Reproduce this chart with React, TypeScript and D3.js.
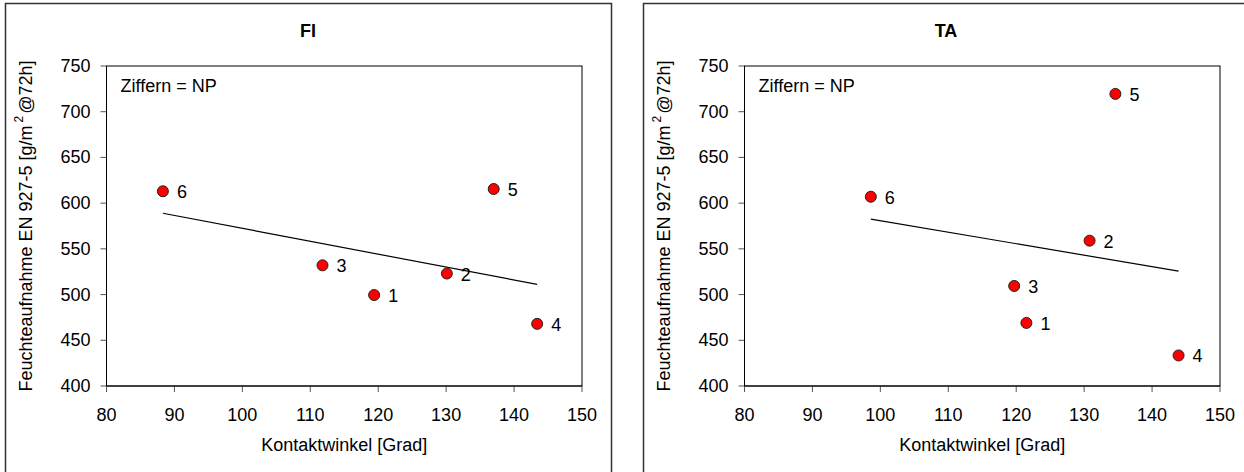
import React from "react";
import * as d3 from "d3";

const panelTitles = ["FI", "TA"];
const pointLabels = ["1", "2", "3", "4", "5", "6"];
const fiAngle = [119.4, 130.1, 111.8, 143.4, 137.0, 88.3];
const fiUptake = [499.5, 523, 532, 468, 615.5, 613];
const taAngle = [121.5, 130.8, 119.7, 143.9, 134.6, 98.6];
const taUptake = [469, 559, 509.4, 433.4, 719.5, 607];
const xTicks = [80, 90, 100, 110, 120, 130, 140, 150];
const yTicks = [400, 450, 500, 550, 600, 650, 700, 750];
const xLabel = "Kontaktwinkel [Grad]";
const noteText = "Ziffern = NP";

const FONT = "'Liberation Sans', Arial, sans-serif";
const FS = 18;

function linearFit(xs: number[], ys: number[]) {
  const mx = d3.mean(xs)!;
  const my = d3.mean(ys)!;
  let sxy = 0, sxx = 0;
  xs.forEach((x, i) => {
    sxy += (x - mx) * (ys[i] - my);
    sxx += (x - mx) * (x - mx);
  });
  const b = sxy / sxx;
  const a = my - b * mx;
  return (x: number) => a + b * x;
}

function Panel({ ox, title, xs, ys }: { ox: number; title: string; xs: number[]; ys: number[] }) {
  const left = 106.5 + ox, right = 582 + ox, top = 66, bottom = 386;
  const x = d3.scaleLinear().domain([80, 150]).range([left, right]);
  const y = d3.scaleLinear().domain([400, 750]).range([bottom, top]);
  const fit = linearFit(xs, ys);
  const [xmin, xmax] = d3.extent(xs) as [number, number];
  const line = d3.line<number>().x((d) => x(d)).y((d) => y(fit(d)));
  const cx = (left + right) / 2;
  return (
    <g>
      <rect x={5.5 + ox} y={3.5} width={606} height={520} fill="white" stroke="#333" strokeWidth={1.5} />
      <text x={308 + ox} y={31} textAnchor="middle" dominantBaseline="central" fontFamily={FONT} fontSize={FS} fontWeight="bold">{title}</text>
      <rect x={left} y={top} width={right - left} height={bottom - top} fill="white" stroke="black" strokeWidth={1} />
      {yTicks.map((t) => (
        <g key={"y" + t}>
          <line x1={left - 6} x2={left} y1={y(t)} y2={y(t)} stroke="#555" strokeWidth={1} />
          <text x={left - 16} y={y(t)} textAnchor="end" dominantBaseline="central" fontFamily={FONT} fontSize={FS}>{t}</text>
        </g>
      ))}
      {xTicks.map((t) => (
        <g key={"x" + t}>
          <line x1={x(t)} x2={x(t)} y1={bottom} y2={bottom + 6} stroke="#555" strokeWidth={1} />
          <text x={x(t)} y={415} textAnchor="middle" dominantBaseline="central" fontFamily={FONT} fontSize={FS}>{t}</text>
        </g>
      ))}
      <line x1={left} x2={left} y1={top} y2={bottom} stroke="black" />
      <line x1={left} x2={right} y1={bottom} y2={bottom} stroke="black" />
      <text x={cx} y={445} textAnchor="middle" dominantBaseline="central" fontFamily={FONT} fontSize={FS}>{xLabel}</text>
      <text transform={`translate(${26 + ox},${(top + bottom) / 2}) rotate(-90)`} textAnchor="middle" dominantBaseline="central" fontFamily={FONT} fontSize={FS}>
        Feuchteaufnahme EN 927-5 [g/m<tspan dx={3} dy={-7} fontSize={12}>2</tspan><tspan dx={2} dy={7}>@72h]</tspan>
      </text>
      <text x={left + 14} y={86} dominantBaseline="central" fontFamily={FONT} fontSize={FS}>{noteText}</text>
      <path d={line([xmin, xmax]) || ""} fill="none" stroke="black" strokeWidth={1.2} />
      {xs.map((v, i) => (
        <g key={"p" + i}>
          <circle cx={x(v)} cy={y(ys[i])} r={5.5} fill="#ff0000" stroke="#222" strokeWidth={1} />
          <text x={x(v) + 14} y={y(ys[i]) + 1} dominantBaseline="central" fontFamily={FONT} fontSize={FS}>{pointLabels[i]}</text>
        </g>
      ))}
    </g>
  );
}

export default function App() {
  return (
    <svg width={1244} height={472} style={{ position: "absolute", left: 0, top: 0, background: "white" }}>
      <rect x={0} y={0} width={1244} height={472} fill="white" />
      <Panel ox={0} title={panelTitles[0]} xs={fiAngle} ys={fiUptake} />
      <Panel ox={638} title={panelTitles[1]} xs={taAngle} ys={taUptake} />
    </svg>
  );
}
